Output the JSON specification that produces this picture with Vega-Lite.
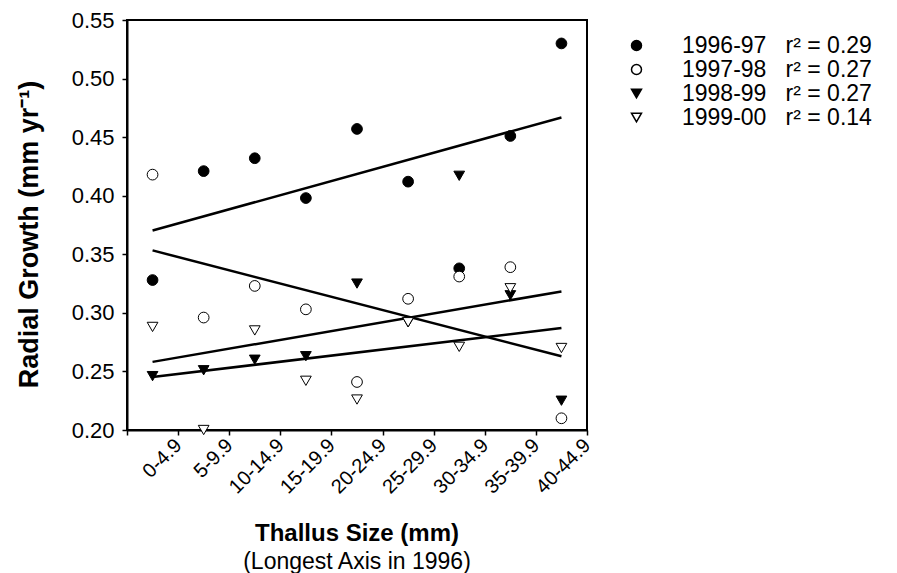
{
  "$schema": "https://vega.github.io/schema/vega-lite/v6.json",
  "width": 460,
  "height": 410,
  "autosize": {"type": "none"},
  "padding": {"left": 127, "top": 20, "right": 310, "bottom": 143},
  "background": "white",
  "config": {
    "font": "Liberation Sans",
    "view": {"stroke": "black", "strokeWidth": 2},
    "axis": {
      "domainColor": "black", "domainWidth": 2, "tickColor": "black", "tickWidth": 1.5, "tickSize": 5,
      "labelColor": "black", "titleColor": "black", "grid": false,
      "labelFont": "Liberation Sans", "titleFont": "Liberation Sans"
    },
    "legend": {"labelFont": "Liberation Sans"},
    "title": {"font": "Liberation Sans", "subtitleFont": "Liberation Sans"}
  },
  "title": {
    "text": "Thallus Size (mm)",
    "subtitle": "(Longest Axis in 1996)",
    "orient": "bottom",
    "anchor": "middle",
    "frame": "group",
    "fontSize": 24,
    "fontWeight": "bold",
    "color": "black",
    "subtitleFontSize": 23,
    "subtitleFontWeight": "normal",
    "subtitleColor": "black",
    "subtitlePadding": 5,
    "offset": 25
  },
  "data": {
    "values": [
      {"series": "1996-97", "size": "0-4.9", "mid": 2.5, "growth": 0.328},
      {"series": "1996-97", "size": "5-9.9", "mid": 7.5, "growth": 0.421},
      {"series": "1996-97", "size": "10-14.9", "mid": 12.5, "growth": 0.432},
      {"series": "1996-97", "size": "15-19.9", "mid": 17.5, "growth": 0.398},
      {"series": "1996-97", "size": "20-24.9", "mid": 22.5, "growth": 0.457},
      {"series": "1996-97", "size": "25-29.9", "mid": 27.5, "growth": 0.412},
      {"series": "1996-97", "size": "30-34.9", "mid": 32.5, "growth": 0.338},
      {"series": "1996-97", "size": "35-39.9", "mid": 37.5, "growth": 0.451},
      {"series": "1996-97", "size": "40-44.9", "mid": 42.5, "growth": 0.530},
      {"series": "1997-98", "size": "0-4.9", "mid": 2.5, "growth": 0.418},
      {"series": "1997-98", "size": "5-9.9", "mid": 7.5, "growth": 0.296},
      {"series": "1997-98", "size": "10-14.9", "mid": 12.5, "growth": 0.323},
      {"series": "1997-98", "size": "15-19.9", "mid": 17.5, "growth": 0.303},
      {"series": "1997-98", "size": "20-24.9", "mid": 22.5, "growth": 0.241},
      {"series": "1997-98", "size": "25-29.9", "mid": 27.5, "growth": 0.312},
      {"series": "1997-98", "size": "30-34.9", "mid": 32.5, "growth": 0.331},
      {"series": "1997-98", "size": "35-39.9", "mid": 37.5, "growth": 0.339},
      {"series": "1997-98", "size": "40-44.9", "mid": 42.5, "growth": 0.210},
      {"series": "1998-99", "size": "0-4.9", "mid": 2.5, "growth": 0.246},
      {"series": "1998-99", "size": "5-9.9", "mid": 7.5, "growth": 0.251},
      {"series": "1998-99", "size": "10-14.9", "mid": 12.5, "growth": 0.260},
      {"series": "1998-99", "size": "15-19.9", "mid": 17.5, "growth": 0.263},
      {"series": "1998-99", "size": "20-24.9", "mid": 22.5, "growth": 0.325},
      {"series": "1998-99", "size": "25-29.9", "mid": 27.5, "growth": 0.292},
      {"series": "1998-99", "size": "30-34.9", "mid": 32.5, "growth": 0.417},
      {"series": "1998-99", "size": "35-39.9", "mid": 37.5, "growth": 0.315},
      {"series": "1998-99", "size": "40-44.9", "mid": 42.5, "growth": 0.225},
      {"series": "1999-00", "size": "0-4.9", "mid": 2.5, "growth": 0.288},
      {"series": "1999-00", "size": "5-9.9", "mid": 7.5, "growth": 0.200},
      {"series": "1999-00", "size": "10-14.9", "mid": 12.5, "growth": 0.285},
      {"series": "1999-00", "size": "15-19.9", "mid": 17.5, "growth": 0.242},
      {"series": "1999-00", "size": "20-24.9", "mid": 22.5, "growth": 0.226},
      {"series": "1999-00", "size": "25-29.9", "mid": 27.5, "growth": 0.292},
      {"series": "1999-00", "size": "30-34.9", "mid": 32.5, "growth": 0.271},
      {"series": "1999-00", "size": "35-39.9", "mid": 37.5, "growth": 0.321},
      {"series": "1999-00", "size": "40-44.9", "mid": 42.5, "growth": 0.270}
    ]
  },
  "encoding": {
    "x": {
      "field": "mid", "type": "quantitative",
      "scale": {"domain": [0, 45], "nice": false, "zero": false},
      "axis": {
        "title": null,
        "values": [0, 5, 10, 15, 20, 25, 30, 35, 40, 45],
        "labelExpr": "datum.value == 0 ? '' : (datum.value - 5) + '-' + (datum.value - 1) + '.9'",
        "labelAngle": -45, "labelAlign": "right", "labelBaseline": "middle",
        "labelFontSize": 20, "labelPadding": 7, "labelDx": 2, "labelFlush": false, "labelOverlap": false
      }
    },
    "y": {
      "field": "growth", "type": "quantitative",
      "scale": {"domain": [0.2, 0.55], "nice": false, "zero": false},
      "axis": {
        "title": "Radial Growth (mm yr\u207b\u00b9)",
        "values": [0.2, 0.25, 0.3, 0.35, 0.4, 0.45, 0.5, 0.55],
        "format": ".2f",
        "labelFontSize": 22, "labelPadding": 8, "labelFlush": false,
        "titleFontSize": 27, "titleFontWeight": "bold",
        "titleX": -90, "titleY": 214, "titleAngle": -90, "titleAlign": "center", "titleBaseline": "alphabetic"
      }
    }
  },
  "layer": [
    {
      "transform": [{"regression": "growth", "on": "mid", "groupby": ["series"]}],
      "mark": {"type": "line", "color": "black", "strokeWidth": 2.5},
      "encoding": {"detail": {"field": "series"}}
    },
    {
      "mark": {"type": "point", "filled": true, "stroke": "black", "strokeWidth": 1, "opacity": 1, "fillOpacity": 1, "size": 115},
      "encoding": {
        "shape": {
          "field": "series", "type": "nominal",
          "scale": {"domain": ["1996-97", "1997-98", "1998-99", "1999-00"], "range": ["circle", "circle", "triangle-down", "triangle-down"]},
          "legend": {
            "title": null, "orient": "none", "legendX": 498, "legendY": 14,
            "labelFontSize": 23, "labelColor": "black", "labelOffset": 34, "symbolSize": 100,
            "rowPadding": 0, "labelLimit": 400,
            "labelExpr": "datum.label + '\u00a0\u00a0\u00a0r\u00b2 = ' + (datum.label == '1996-97' ? '0.29' : datum.label == '1999-00' ? '0.14' : '0.27')",
            "encode": {"symbols": {"update": {"stroke": {"value": "black"}, "strokeWidth": {"value": 1}}}}
          }
        },
        "fill": {
          "field": "series", "type": "nominal",
          "scale": {"domain": ["1996-97", "1997-98", "1998-99", "1999-00"], "range": ["black", "white", "black", "white"]},
          "legend": {
            "title": null, "orient": "none", "legendX": 498, "legendY": 14,
            "labelFontSize": 23, "labelColor": "black", "labelOffset": 34, "symbolSize": 100,
            "rowPadding": 0, "labelLimit": 400,
            "labelExpr": "datum.label + '\u00a0\u00a0\u00a0r\u00b2 = ' + (datum.label == '1996-97' ? '0.29' : datum.label == '1999-00' ? '0.14' : '0.27')",
            "encode": {"symbols": {"update": {"stroke": {"value": "black"}, "strokeWidth": {"value": 1}}}}
          }
        }
      }
    }
  ]
}
